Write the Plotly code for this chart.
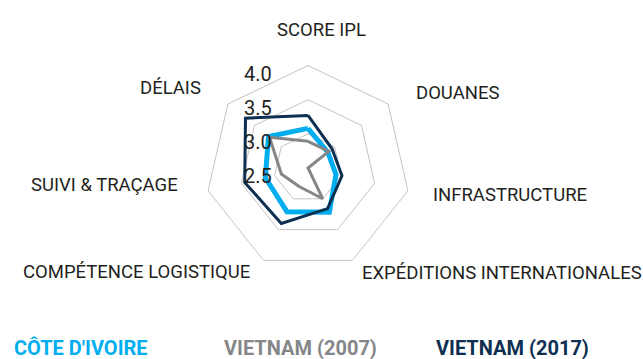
import plotly.graph_objects as go

# categorias del IPL (sentido horario desde arriba)
categorias = ['SCORE IPL', 'DOUANES', 'INFRASTRUCTURE', 'EXPÉDITIONS INTERNATIONALES',
              'COMPÉTENCE LOGISTIQUE', 'SUIVI & TRAÇAGE', 'DÉLAIS']

cote_ivoire = [3.08, 2.87, 2.92, 3.22, 3.21, 3.14, 3.24]
vietnam_2007 = [2.89, 2.89, 2.50, 3.00, 2.80, 2.90, 3.22]
vietnam_2017 = [3.27, 2.95, 3.01, 3.16, 3.40, 3.45, 3.67]

escala = [2.5, 3.0, 3.5, 4.0]

series = ["CÔTE D'IVOIRE", 'VIETNAM (2007)', 'VIETNAM (2017)']
colores = ['#00aeef', '#858688', '#0d2f52']
grosores = [5, 3, 3]

fuente = 'Roboto, sans-serif'
W, H = 643, 359
cx, cy, R = 308, 168, 102.5   # centro y radio del radar en pixeles

fig = go.Figure()
for nombre, valores, color, ancho in zip(series, [cote_ivoire, vietnam_2007, vietnam_2017], colores, grosores):
    fig.add_trace(go.Scatterpolar(
        r=valores + valores[:1],
        theta=categorias + categorias[:1],
        mode='lines',
        name=nombre,
        line=dict(color=color, width=ancho),
        showlegend=False))

# etiquetas de las categorias (x, y en pixeles, anclaje)
pos_etiquetas = [(321.5, 30, 'center'), (414, 93, 'left'), (431, 195, 'left'),
                 (360, 273, 'left'), (252, 272, 'right'), (180, 185, 'right'),
                 (203, 88, 'right')]
for cat, (x, y, anc) in zip(categorias, pos_etiquetas):
    fig.add_annotation(x=x / W, y=1 - y / H, xref='paper', yref='paper',
                       xanchor=anc, yanchor='middle', showarrow=False, text=cat,
                       font=dict(family=fuente, size=18.5, color='#231f20'))

# etiquetas del eje radial, a la izquierda del eje y un poco debajo de cada anillo
for v in escala:
    y = cy - (v - escala[0]) / (escala[-1] - escala[0]) * R + 8
    fig.add_annotation(x=258 / W, y=1 - y / H, xref='paper', yref='paper',
                       xanchor='center', yanchor='middle', showarrow=False,
                       text=f'{v:.1f}',
                       font=dict(family=fuente, size=20, color='#231f20'))

# leyenda como texto coloreado
pos_leyenda = [12, 222, 434]
for nombre, color, x in zip(series, colores, pos_leyenda):
    fig.add_annotation(x=x / W, y=1 - 348 / H, xref='paper', yref='paper',
                       xanchor='left', yanchor='middle', showarrow=False,
                       text='<b>' + nombre + '</b>',
                       font=dict(family=fuente, size=20, color=color))

fig.update_layout(
    width=W, height=H,
    margin=dict(l=0, r=0, t=0, b=0),
    paper_bgcolor='white',
    font=dict(family=fuente, color='#231f20'),
    polar=dict(
        domain=dict(x=[(cx - R) / W, (cx + R) / W],
                    y=[1 - (cy + R) / H, 1 - (cy - R) / H]),
        bgcolor='white',
        gridshape='linear',
        angularaxis=dict(direction='clockwise', rotation=90,
                         showgrid=False, showline=True,
                         linecolor='#c4c4c4', linewidth=1,
                         ticks='', showticklabels=False),
        radialaxis=dict(range=[escala[0], escala[-1]], tickvals=escala,
                        angle=90, showline=False, showticklabels=False,
                        ticks='', gridcolor='#c4c4c4', gridwidth=1)))

# quitar el margen por defecto del body para que la figura quede en (0,0)
fig.write_html('out.html', config={'displayModeBar': False},
               post_script="document.body.style.margin='0px';")
